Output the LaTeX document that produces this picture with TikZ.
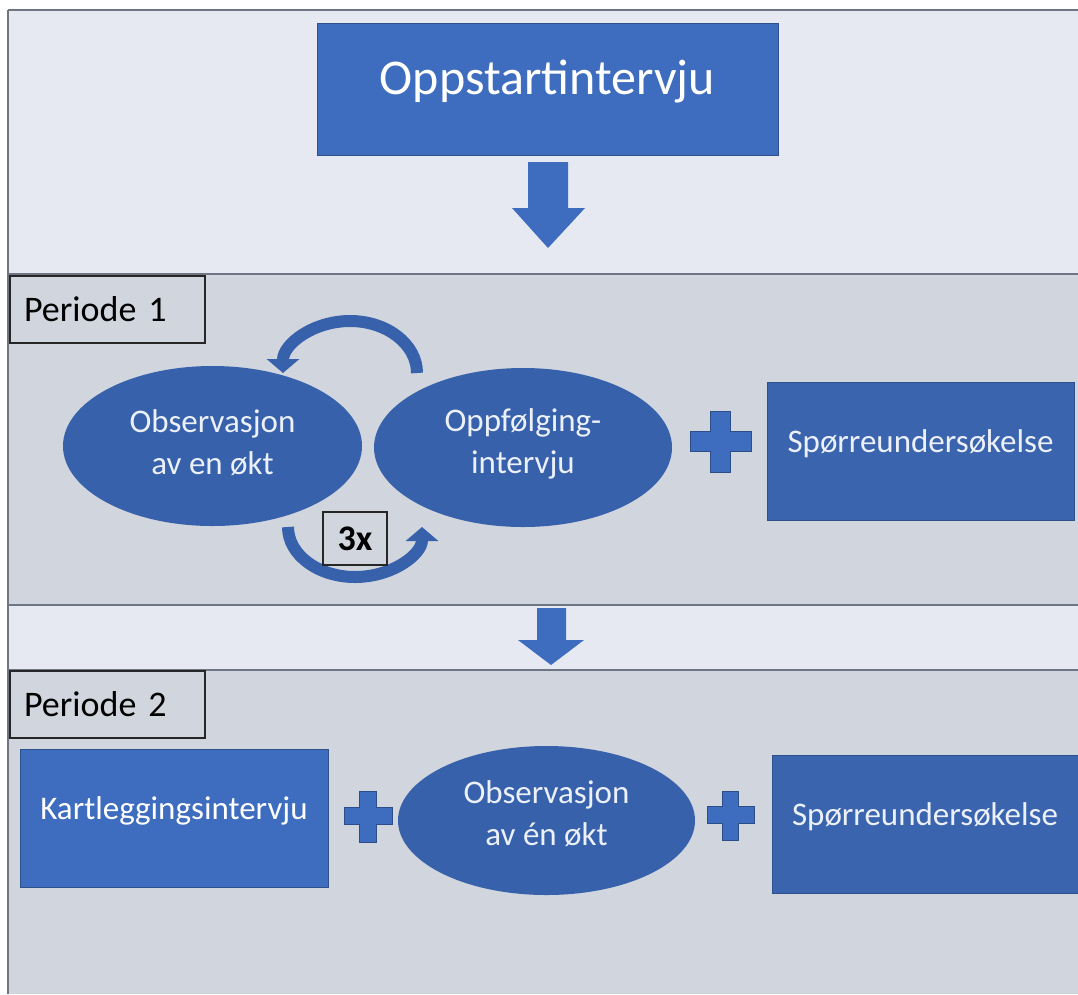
\documentclass[tikz,border=0pt]{standalone}
\usepackage{fontspec}
\setmainfont{Carlito}
\usetikzlibrary{shapes.geometric,arrows.meta}
\definecolor{bgtop}{RGB}{230,233,242}
\definecolor{bgper}{RGB}{209,213,221}
\definecolor{boxblue}{RGB}{62,108,190}
\definecolor{boxdark}{RGB}{58,100,174}
\definecolor{ellblue}{RGB}{55,97,170}
\definecolor{framec}{RGB}{110,118,132}
\definecolor{arrblue}{RGB}{62,108,191}
\definecolor{txtw}{RGB}{236,240,248}
\begin{document}
\begin{tikzpicture}[x=1pt,y=-1pt,
  bluebox/.style={rectangle, draw=boxdark!80!black, line width=0.6pt, fill=boxblue, text=white, inner sep=0pt},
  darkbox/.style={rectangle, draw=boxdark!80!black, line width=0.6pt, fill=boxdark, text=txtw, inner sep=0pt, font=\fontsize{33}{40}\selectfont},
  ellnode/.style={ellipse, fill=ellblue, text=txtw, inner sep=0pt, align=center, font=\fontsize{33}{42}\selectfont},
  lbl/.style={rectangle, draw=black!85, line width=1.2pt, fill=bgper, text=black, inner xsep=14pt, inner ysep=0pt, text width=167pt, align=left, minimum height=67pt, font=\fontsize{36}{40}\selectfont},
  framel/.style={draw=framec, line width=2pt},
  circarrow/.style={draw=ellblue, line width=12pt, -{Triangle[width=32pt,length=14pt]}},
  plusf/.style={fill=arrblue, draw=ellblue!80!black, line width=0.5pt}
]
\useasboundingbox (0,0) rectangle (1078,994);
\fill[white] (0,0) rectangle (1078,994);
% panels
\fill[bgtop] (8,10) rectangle (1078,274);
\fill[bgper] (8,274) rectangle (1078,605);
\fill[bgtop] (8,605) rectangle (1078,670);
\fill[bgper] (8,670) rectangle (1078,994);
\draw[framel] (8,10) -- (1078,10);
\draw[framel] (8,274) -- (1078,274);
\draw[framel] (8,605) -- (1078,605);
\draw[framel] (8,670) -- (1078,670);
\draw[framel] (8,10) -- (8,994);

% top
\node[bluebox, minimum width=461pt, minimum height=132pt, text depth=24pt, font=\fontsize{50}{60}\selectfont] (start) at (547.5,89) {Oppstartintervju};
\fill[arrblue] (528,162) -- (568,162) -- (568,208) -- (585,208) -- (548,248) -- (512,208) -- (528,208) -- cycle;

% periode 1
\node[lbl] (p1) at (107.5,309.5) {Periode 1};
\node[ellnode, minimum width=299pt, minimum height=160pt, text depth=8pt] (obs1) at (212.5,446) {Observasjon\\av en økt};
\node[ellnode, minimum width=298pt, minimum height=159pt, text depth=12pt] (opp) at (523,447.5) {Oppfølging-\\intervju};
\draw[circarrow] (417,373) arc[start angle=0, end angle=-180, x radius=67, y radius=52];
\draw[circarrow] (288,527) arc[start angle=180, end angle=0, x radius=67, y radius=50];
\node[rectangle, draw=black!85, line width=1.2pt, fill=bgper, minimum width=64pt, minimum height=53pt, font=\bfseries\fontsize{36}{40}\selectfont] (three) at (355,538.5) {3x};
\fill[plusf] (710,411) -- (730,411) -- (730,431) -- (751,431) -- (751,451) -- (730,451) -- (730,472) -- (710,472) -- (710,451) -- (690,451) -- (690,431) -- (710,431) -- cycle;
\node[darkbox, minimum width=307pt, minimum height=138pt, text depth=20pt] (survey1) at (920.5,451) {Spørreundersøkelse};

% middle arrow
\fill[arrblue] (537,608) -- (566,608) -- (566,640) -- (584,640) -- (551,665) -- (518,640) -- (537,640) -- cycle;

% periode 2
\node[lbl] (p2) at (107.5,704.5) {Periode 2};
\node[bluebox, minimum width=308pt, minimum height=138pt, text depth=20pt, font=\fontsize{33}{40}\selectfont] (kart) at (174,818) {Kartleggingsintervju};
\fill[plusf] (359,791) -- (376,791) -- (376,807) -- (392,807) -- (392,824) -- (376,824) -- (376,842) -- (359,842) -- (359,824) -- (344,824) -- (344,807) -- (359,807) -- cycle;
\node[ellnode, minimum width=297pt, minimum height=149pt, text depth=14pt] (obs2) at (546.5,820.5) {Observasjon\\av én økt};
\fill[plusf] (722,791) -- (738,791) -- (738,806) -- (754,806) -- (754,823) -- (738,823) -- (738,840) -- (722,840) -- (722,823) -- (707,823) -- (707,806) -- (722,806) -- cycle;
\node[darkbox, minimum width=306pt, minimum height=138pt, text depth=20pt] (survey2) at (925,824) {Spørreundersøkelse};
\end{tikzpicture}
\end{document}
